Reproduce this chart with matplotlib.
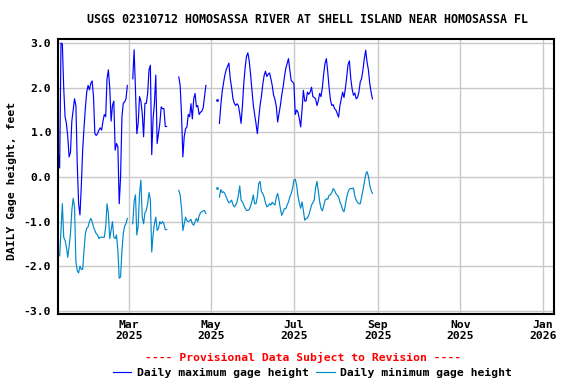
import numpy as np
import pandas as pd
import matplotlib
matplotlib.use("Agg")
import matplotlib.pyplot as plt
import matplotlib.dates as mdates

# Daily max / min gage height (feet), in continuous runs
start_a = "2025-01-08"
max_a = [0.55, 0.2, 3.0, 2.98, 2.0, 1.35, 1.2, 0.9, 0.45, 0.55,
         1.25, 1.5, 1.75, 1.6, 0.3, -0.6, -0.85, -0.2, 0.6, 1.1,
         1.55, 1.9, 2.05, 1.95, 2.1, 2.15, 1.8, 0.97, 0.93, 0.97,
         1.05, 1.1, 1.05, 1.25, 1.4, 1.35, 2.2, 2.4, 2.0, 1.25,
         1.6, 1.7, 0.6, 0.75, 0.68, -0.6, 0.0, 1.35, 1.65, 1.68,
         1.75, 2.05]
min_a = [-1.72, -1.77, -1.2, -0.6, -1.35, -1.42, -1.57, -1.8, -1.55, -1.27,
         -0.75, -0.48, -0.67, -1.9, -2.1, -2.15, -2.0, -2.07, -2.07, -1.65,
         -1.27, -1.15, -1.12, -1.0, -0.93, -1.0, -1.12, -1.2, -1.27, -1.3,
         -1.38, -1.35, -1.35, -1.35, -1.35, -1.12, -0.6, -0.82, -1.38, -1.2,
         -1.0, -1.35, -1.38, -1.3, -1.65, -2.27, -2.24, -1.65, -1.27, -1.1,
         -1.05, -0.93]

start_b = "2025-03-04"
max_b = [2.2, 2.85, 1.95, 0.97, 1.2, 1.8, 1.7, 1.42, 0.9, 1.65,
         1.65, 1.87, 2.4, 2.5, 0.5, 1.3, 1.65, 2.28, 0.75, 0.97,
         1.2, 1.57, 1.53, 1.53, 1.13, 1.13]
min_b = [-1.05, -0.55, -0.4, -1.3, -1.1, -0.37, -0.07, -0.9, -1.05, -0.8,
         -0.75, -0.6, -0.35, -0.5, -1.68, -1.3, -1.05, -0.9, -1.2, -1.15,
         -1.0, -1.05, -1.0, -1.05, -1.18, -1.18]

start_c = "2025-04-07"
max_c = [2.24, 2.05, 1.4, 0.45, 0.9, 1.08, 1.12, 1.4, 1.35, 1.64,
         1.3, 1.75, 1.87, 1.57, 1.6, 1.4, 1.45, 1.47, 1.55, 1.8, 2.05]
min_c = [-0.3, -0.4, -0.7, -1.2, -1.05, -0.9, -0.98, -1.0, -0.98, -0.95,
         -1.05, -1.08, -1.0, -0.93, -1.0, -0.87, -0.8, -0.78, -0.76, -0.75, -0.82]

# single isolated day
dot_date = "2025-05-05"
dot_max = 1.72
dot_min = -0.25

start_d = "2025-05-07"
max_d = [1.2, 1.6, 1.9, 2.1, 2.28, 2.4, 2.48, 2.55, 2.2, 2.0,
         1.75, 1.65, 1.6, 1.64, 1.6, 1.42, 1.2, 1.6, 2.1, 2.45,
         2.7, 2.78, 2.6, 2.3, 1.95, 1.62, 1.4, 1.2, 0.97, 1.3,
         1.6, 1.8, 2.07, 2.27, 2.37, 2.25, 2.3, 2.33, 2.2, 2.05,
         1.83, 1.74, 1.58, 1.23, 1.42, 1.6, 1.83, 2.01, 2.24, 2.43,
         2.54, 2.65, 2.39, 2.16, 2.13, 2.09, 1.4,
         1.5, 1.45, 1.31, 1.12, 1.5, 1.94, 1.7, 1.7, 1.9, 1.85,
         1.9, 2.01, 1.8, 1.78, 1.75, 1.6, 1.7, 1.87, 1.8, 2.0,
         2.31, 2.55, 2.65, 2.35, 2.0, 1.72, 1.6, 1.62, 1.53, 1.5,
         1.42, 1.34, 1.6, 1.75, 1.9, 1.78, 1.98, 2.24, 2.52, 2.6,
         2.2, 1.97, 1.83, 1.88, 1.75, 1.78, 1.9, 2.13, 2.2, 2.4,
         2.65, 2.84, 2.58, 2.4, 2.1, 1.9, 1.75]
min_d = [-0.45, -0.28, -0.35, -0.33, -0.37, -0.45, -0.52, -0.58, -0.56, -0.52,
         -0.62, -0.67, -0.63, -0.56, -0.41, -0.2, -0.52, -0.56, -0.63, -0.7,
         -0.75, -0.75, -0.73, -0.65, -0.55, -0.4, -0.6, -0.6, -0.45, -0.15,
         -0.1, -0.33, -0.37, -0.45, -0.58, -0.67, -0.65, -0.6, -0.63, -0.57,
         -0.6, -0.63, -0.45, -0.37, -0.52, -0.71, -0.86, -0.79, -0.71, -0.71,
         -0.63, -0.56, -0.45, -0.37, -0.26, -0.07, -0.05,
         -0.18, -0.43, -0.58, -0.7, -0.56, -0.75, -0.97, -0.93, -0.92, -0.85,
         -0.75, -0.63, -0.58, -0.52, -0.25, -0.1, -0.3, -0.55, -0.7, -0.76,
         -0.65, -0.52, -0.49, -0.5, -0.41, -0.4, -0.35, -0.26, -0.3, -0.37,
         -0.41, -0.45, -0.56, -0.63, -0.74, -0.78, -0.63, -0.45, -0.34, -0.27,
         -0.26, -0.26, -0.25, -0.43, -0.52, -0.57, -0.6, -0.6, -0.45, -0.3,
         -0.12, 0.05, 0.12, 0.02, -0.18, -0.3, -0.37]

segments = [(start_a, max_a, min_a), (start_b, max_b, min_b),
            (start_c, max_c, min_c), (start_d, max_d, min_d)]

MAX_COLOR = "#0000ff"
MIN_COLOR = "#0088cc"
FONT = "DejaVu Sans Mono"
LW = 0.85

plt.rcParams["font.family"] = FONT
plt.rcParams["font.weight"] = "bold"
plt.rcParams["font.size"] = 8.2

fig = plt.figure(figsize=(5.76, 3.84), dpi=100)
ax = fig.add_axes([0.1012, 0.1823, 0.8606, 0.7161])

for start, hi, lo in segments:
    dates = pd.date_range(start, periods=len(hi), freq="D")
    ax.plot(dates, hi, color=MAX_COLOR, lw=LW)
    ax.plot(dates, lo, color=MIN_COLOR, lw=LW)
ax.plot(pd.to_datetime([dot_date]), [dot_max], "s", color=MAX_COLOR, ms=0.9)
ax.plot(pd.to_datetime([dot_date]), [dot_min], "s", color=MIN_COLOR, ms=0.9)

ax.set_xlim(pd.Timestamp("2025-01-08"), pd.Timestamp("2026-01-09 02:00"))
ax.set_ylim(-3.07, 3.09)
ax.set_yticks(np.arange(-3, 3.5, 1.0))
ax.yaxis.set_major_formatter(plt.FormatStrFormatter("%.1f"))
ax.xaxis.set_major_locator(mdates.MonthLocator(bymonth=[1, 3, 5, 7, 9, 11]))
ax.xaxis.set_major_formatter(mdates.DateFormatter("%b\n%Y"))
ax.tick_params(axis="both", length=0, labelsize=8.2)
ax.tick_params(axis="y", pad=5)
ax.tick_params(axis="x", pad=4)
ax.grid(True, color="#c8c8c8", lw=1.0)
ax.set_axisbelow(True)
for sp in ax.spines.values():
    sp.set_color("black")
    sp.set_linewidth(1.5)

fig.text(0.533, 0.95, "USGS 02310712 HOMOSASSA RIVER AT SHELL ISLAND NEAR HOMOSASSA FL",
         ha="center", va="center", fontsize=8.4)
fig.text(0.021, 0.53, "DAILY Gage height, feet", rotation=90,
         ha="center", va="center", fontsize=8.2)
fig.text(0.527, 0.068, "---- Provisional Data Subject to Revision ----",
         ha="center", va="center", color="#ff0000", fontsize=8.2)

handles = [plt.Line2D([], [], color=MAX_COLOR, lw=LW),
           plt.Line2D([], [], color=MIN_COLOR, lw=LW)]
fig.legend(handles, ["Daily maximum gage height", "Daily minimum gage height"],
           loc="center", bbox_to_anchor=(0.5425, 0.029), ncol=2, frameon=False,
           handlelength=1.65, handletextpad=0.5, columnspacing=0.6,
           borderpad=0, fontsize=8.2)

fig.savefig("out.png", dpi=100)
